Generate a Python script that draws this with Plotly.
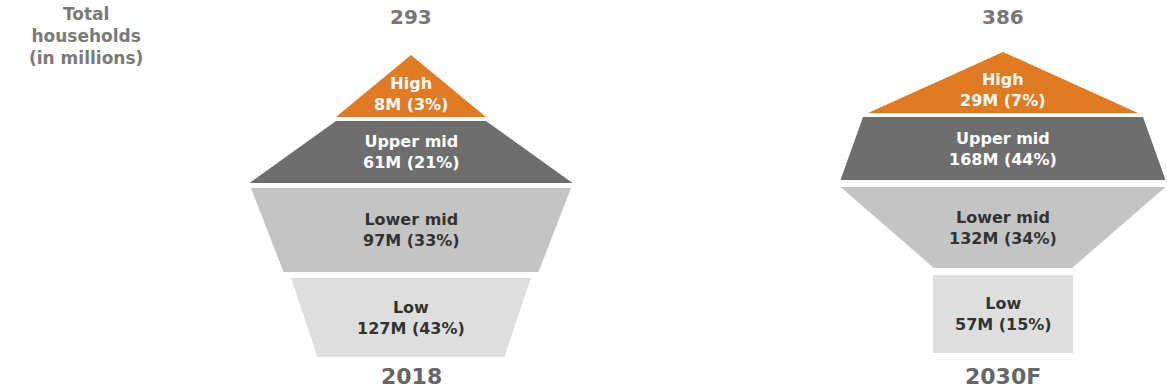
import plotly.graph_objects as go

# ---- data ----
segments = ["High", "Upper mid", "Lower mid", "Low"]
years = ["2018", "2030F"]
totals = [293, 386]
households_2018 = [8, 61, 97, 127]
share_2018 = [3, 21, 33, 43]
households_2030 = [29, 168, 132, 57]
share_2030 = [7, 44, 34, 15]

households = [households_2018, households_2030]
shares = [share_2018, share_2030]

# ---- styling / layout geometry (axis units = pixels) ----
fill_colors = ["#E07B24", "#6E6E6E", "#C4C4C4", "#DEDEDE"]
label_colors = ["#FFFFFF", "#FFFFFF", "#333333", "#333333"]
centers = [411, 1003]
seg_top = [[55, 121, 188, 278], [52, 117, 187, 275]]
seg_bot = [[117, 183, 272, 357], [113, 180, 268, 353]]
top_w = [[0, 150, 320, 240], [0, 280, 325, 140]]
bot_w = [[150, 323, 255, 187], [270, 325, 138, 140]]
FONT = "DejaVu Sans"

fig = go.Figure()
annotations = []

for p in range(len(years)):
    cx = centers[p]
    for i, seg in enumerate(segments):
        t, b = seg_top[p][i], seg_bot[p][i]
        tw, bw = top_w[p][i], bot_w[p][i]
        xs = [cx - tw / 2, cx + tw / 2, cx + bw / 2, cx - bw / 2, cx - tw / 2]
        ys = [t, t, b, b, t]
        fig.add_trace(go.Scatter(
            x=xs, y=ys, mode="lines", fill="toself",
            fillcolor=fill_colors[i], line=dict(width=0),
            hoverinfo="skip", showlegend=False))
        ly = t + 0.63 * (b - t) if tw == 0 else (t + b) / 2
        annotations.append(dict(
            x=cx, y=ly, xref="x", yref="y", showarrow=False,
            text=f"<b>{seg}<br>{households[p][i]}M ({shares[p][i]}%)</b>",
            font=dict(family=FONT, size=16, color=label_colors[i]),
            align="center"))
    annotations.append(dict(
        x=cx, y=17, xref="x", yref="y", showarrow=False,
        text=f"<b>{totals[p]}</b>",
        font=dict(family=FONT, size=20, color="#777777")))
    annotations.append(dict(
        x=cx, y=376, xref="x", yref="y", showarrow=False,
        text=f"<b>{years[p]}</b>", borderpad=0,
        font=dict(family=FONT, size=22, color="#666666")))

annotations.append(dict(
    x=86, y=36, xref="x", yref="y", showarrow=False,
    text="<b>Total<br>households<br>(in millions)</b>",
    font=dict(family=FONT, size=17, color="#7A7A7A"), align="center"))

fig.update_layout(
    width=1167, height=391,
    margin=dict(l=0, r=0, t=0, b=0),
    paper_bgcolor="white", plot_bgcolor="white",
    xaxis=dict(range=[0, 1167], visible=False, fixedrange=True),
    yaxis=dict(range=[391, 0], visible=False, fixedrange=True),
    annotations=annotations,
    showlegend=False,
)

fig.write_html("out.html")
